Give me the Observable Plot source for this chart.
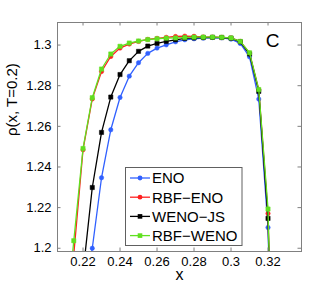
<!DOCTYPE html>
<html><head><meta charset="utf-8">
<script src="https://cdn.jsdelivr.net/npm/d3@7"></script>
<script src="https://cdn.jsdelivr.net/npm/@observablehq/plot@0.6"></script>
<style>body{margin:0;background:#fff}svg{display:block}</style>
</head><body><div id="chart"></div>
<script>
const xs = [0.21,0.215,0.22,0.225,0.23,0.235,0.24,0.245,0.25,0.255,0.26,0.265,0.27,0.275,0.28,0.285,0.29,0.295,0.30,0.305,0.31,0.315,0.32,0.325];
const eno     = [1.12,1.14,1.17,1.2000,1.2347,1.2583,1.2742,1.2847,1.2913,1.2959,1.2985,1.3001,1.3016,1.3026,1.3031,1.3034,1.3037,1.3036,1.3029,1.3008,1.2942,1.2734,1.2102,1.03];
const rbfEno  = [1.15,1.197,1.2485,1.2735,1.2870,1.2944,1.2985,1.3005,1.3018,1.3028,1.3033,1.3038,1.3042,1.3044,1.3043,1.3040,1.3039,1.3038,1.3035,1.3018,1.2960,1.2780,1.2171,1.03];
const wenoJs  = [1.14,1.16,1.188,1.2299,1.2570,1.2744,1.2855,1.2923,1.2969,1.2995,1.3008,1.3018,1.3026,1.3033,1.3035,1.3037,1.3038,1.3037,1.3034,1.3016,1.2956,1.2772,1.2147,1.03];
const rbfWeno = [1.155,1.2037,1.2491,1.2741,1.2882,1.2956,1.2994,1.3010,1.3020,1.3027,1.3031,1.3034,1.3035,1.3037,1.3039,1.3039,1.3039,1.3038,1.3035,1.3018,1.2962,1.2781,1.2193,1.03];
const seriesNames = ["ENO","RBF\u2212ENO","WENO\u2212JS","RBF\u2212WENO"];
const seriesColors = ["#3060ff","#ff2020","#000000","#60e020"];
const seriesSymbols = ["circle","circle","square","square"];
const xTicks = [0.22,0.24,0.26,0.28,0.30,0.32];
const yTicks = [1.20,1.22,1.24,1.26,1.28,1.30];
const xDomain = [0.2062, 0.3381];
const yDomain = [1.1984, 1.3111];
const panelLabel = "C";
const xLabel = "x";
const yLabel = "\u03c1(x, T=0.2)";

const seriesValues = [eno, rbfEno, wenoJs, rbfWeno];
const W = 332, H = 287, mL = 57, mR = 31, mT = 22, mB = 36;
const fw = W - mL - mR, fh = H - mT - mB;
const font = "'Liberation Sans', Arial, sans-serif";
const axisColor = "#808080";

const marks = [];
seriesValues.forEach((vals, k) => {
  const rows = xs.map((x, i) => ({x, y: vals[i]}));
  marks.push(Plot.line(rows, {x: "x", y: "y", stroke: seriesColors[k], strokeWidth: 1.3, clip: true}));
  marks.push(Plot.dot(rows, {x: "x", y: "y", fill: seriesColors[k], stroke: seriesColors[k], strokeWidth: 0.5,
    symbol: seriesSymbols[k], r: seriesSymbols[k] === "square" ? 2.4 : 2.2, clip: true}));
});
marks.push(
  Plot.ruleX(xTicks, {x: d => d, insetTop: fh - 3.5, stroke: axisColor}),
  Plot.ruleX(xTicks, {x: d => d, insetBottom: fh - 3.5, stroke: axisColor}),
  Plot.ruleY(yTicks, {y: d => d, insetRight: fw - 3.5, stroke: axisColor}),
  Plot.ruleY(yTicks, {y: d => d, insetLeft: fw - 3.5, stroke: axisColor}),
  Plot.frame({stroke: axisColor}),
  Plot.axisX(xTicks, {tickSize: 0, tickPadding: 5, label: null, tickFormat: d => String(+d.toFixed(2)), fill: "#000"}),
  Plot.axisY(yTicks, {tickSize: 0, tickPadding: 6, label: null, tickFormat: d => String(+d.toFixed(2)), fill: "#000"}),
  Plot.text([xLabel], {frameAnchor: "bottom", dy: 28, fontSize: 16, fill: "#000"}),
  Plot.text([yLabel], {frameAnchor: "left", rotate: -90, dx: -45, dy: -1, fontSize: 15, fill: "#000"}),
  Plot.text([panelLabel], {frameAnchor: "top-right", dx: -29, dy: 18, textAnchor: "middle", lineAnchor: "middle", fontSize: 19, fill: "#000"})
);

const svgEl = Plot.plot({
  width: W, height: H,
  marginLeft: mL, marginRight: mR, marginTop: mT, marginBottom: mB,
  x: {domain: xDomain},
  y: {domain: yDomain},
  style: {fontFamily: font, fontSize: "13px", background: "#fff", color: "#000"},
  marks
});
document.getElementById("chart").append(svgEl);

// legend box
const svg = d3.select(svgEl);
const lg = svg.append("g").attr("font-family", font).attr("font-size", 15).attr("text-anchor", "start");
lg.append("rect").attr("x", 125.5).attr("y", 167.5).attr("width", 116.5).attr("height", 78)
  .attr("fill", "#fff").attr("stroke", "#606060").attr("stroke-width", 1);
seriesNames.forEach((name, k) => {
  const cy = 178 + k * 19.2;
  lg.append("line").attr("x1", 130).attr("x2", 150).attr("y1", cy).attr("y2", cy)
    .attr("stroke", seriesColors[k]).attr("stroke-width", 1.3);
  if (seriesSymbols[k] === "circle") {
    lg.append("circle").attr("cx", 140).attr("cy", cy).attr("r", 2.4).attr("fill", seriesColors[k]);
  } else {
    lg.append("rect").attr("x", 137.7).attr("y", cy - 2.3).attr("width", 4.6).attr("height", 4.6).attr("fill", seriesColors[k]);
  }
  lg.append("text").attr("x", 152).attr("y", cy).attr("dy", "0.36em").attr("fill", "#000").attr("text-anchor", "start").text(name);
});
</script></body></html>
